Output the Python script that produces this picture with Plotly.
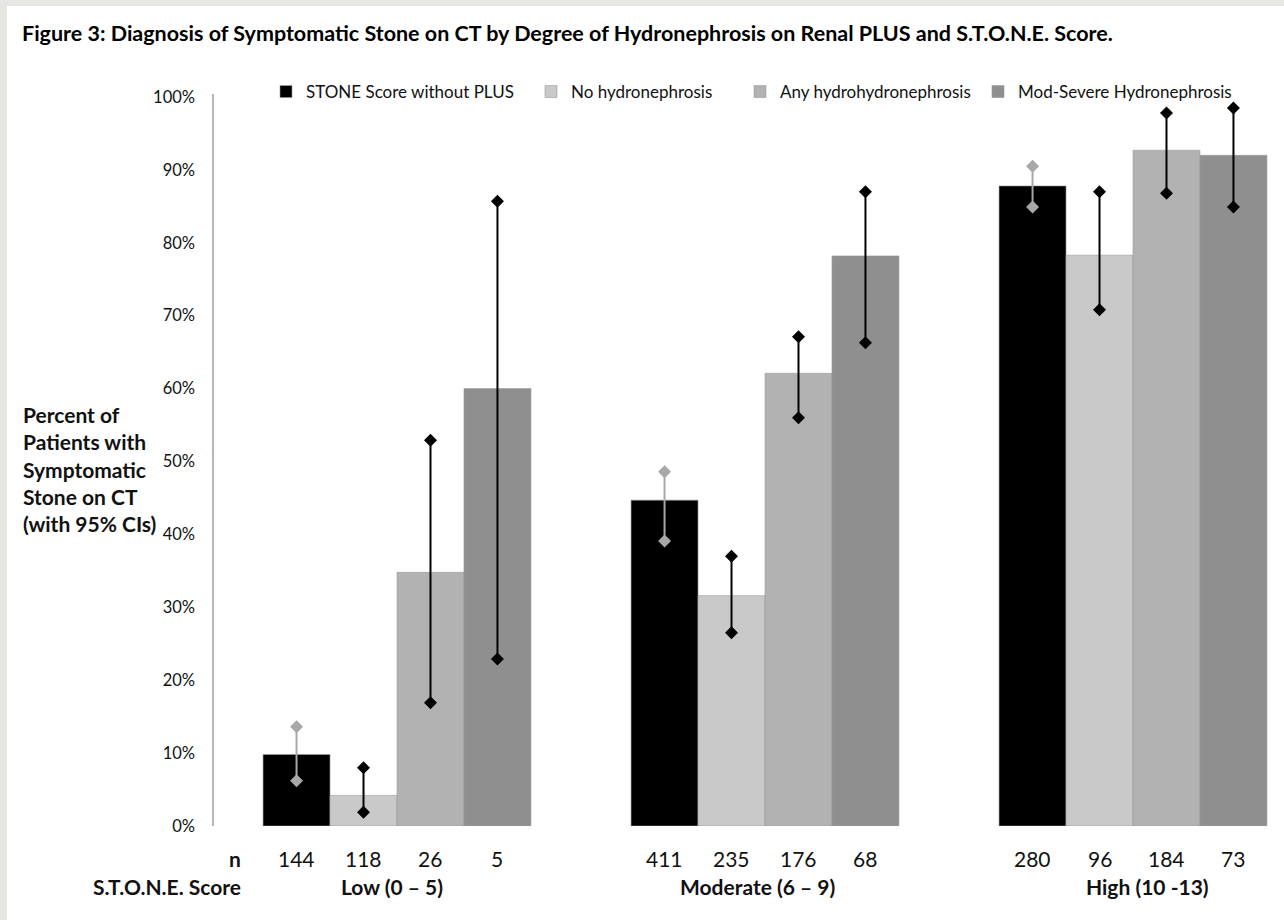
import plotly.graph_objects as go

# ---- data ----
groups = ["Low (0 – 5)", "Moderate (6 – 9)", "High (10 -13)"]
series_names = ["STONE Score without PLUS", "No hydronephrosis",
                "Any hydrohydronephrosis", "Mod-Severe Hydronephrosis"]
stone_without_plus = [9.8, 44.7, 87.8]
no_hydro = [4.2, 31.6, 78.3]
any_hydro = [34.8, 62.1, 92.7]
mod_severe = [60.0, 78.2, 92.0]

ci_low_stone = [6.2, 39.1, 84.9]
ci_high_stone = [13.6, 48.6, 90.5]
ci_low_no = [1.9, 26.5, 70.8]
ci_high_no = [8.0, 37.0, 87.0]
ci_low_any = [16.9, 56.0, 86.8]
ci_high_any = [52.9, 67.1, 97.8]
ci_low_mod = [22.9, 66.3, 84.9]
ci_high_mod = [85.7, 87.0, 98.5]

n_stone = [144, 411, 280]
n_no = [118, 235, 96]
n_any = [26, 176, 184]
n_mod = [5, 68, 73]

y_ticks = [0, 10, 20, 30, 40, 50, 60, 70, 80, 90, 100]
y_tick_labels = [f"{t}%" for t in y_ticks]

# ---- style ----
colors = ["#000000", "#c9c9c9", "#b2b2b2", "#8f8f8f"]
ci_colors = ["#a8a8a8", "#000000", "#000000", "#000000"]
FONT = "Lato"
W, H = 1284, 920
ML, MR, MT, MB = 213, 9, 97, 94
PW = W - ML - MR
PH = H - MT - MB
BARGAP = 0.272
X_MIN, X_MAX = -0.5, -0.5 + PW / 368.0
legend_text_px = [304, 569, 778, 1016]

values = [stone_without_plus, no_hydro, any_hydro, mod_severe]
ci_lo = [ci_low_stone, ci_low_no, ci_low_any, ci_low_mod]
ci_hi = [ci_high_stone, ci_high_no, ci_high_any, ci_high_mod]
counts = [n_stone, n_no, n_any, n_mod]

xg = list(range(len(groups)))
bw = (1 - BARGAP) / len(series_names)

def px2paper_x(px):
    return (px - ML) / PW

def px2paper_y(py):
    return (H - MB - py) / PH

legend_keys = ["legend", "legend2", "legend3", "legend4"]

fig = go.Figure()
for i, name in enumerate(series_names):
    fig.add_trace(go.Bar(x=xg, y=values[i], name=name, legend=legend_keys[i],
                         marker=dict(color=colors[i], line=dict(width=0.6, color="#9a9a9a")),
                         showlegend=True))

for i in range(len(series_names)):
    off = (i - (len(series_names) - 1) / 2) * bw
    xs, ys = [], []
    for g in xg:
        xs += [g + off, g + off, None]
        ys += [ci_lo[i][g], ci_hi[i][g], None]
    fig.add_trace(go.Scatter(x=xs, y=ys, mode="lines+markers", showlegend=False,
                             line=dict(color=ci_colors[i], width=2),
                             marker=dict(symbol="diamond", size=10, color=ci_colors[i]),
                             hoverinfo="skip"))

annotations = []
LBL = 21
for i in range(len(series_names)):
    off = (i - (len(series_names) - 1) / 2) * bw
    for g in xg:
        annotations.append(dict(x=g + off, y=px2paper_y(858), xref="x", yref="paper",
                                text=str(counts[i][g]), showarrow=False,
                                font=dict(family=FONT, size=LBL, color="#111"),
                                xanchor="center", yanchor="middle"))
shifts = [-5, -8, 14]
for g in xg:
    annotations.append(dict(x=g, y=px2paper_y(886), xref="x", yref="paper", xshift=shifts[g],
                            text=f"<b>{groups[g]}</b>", showarrow=False,
                            font=dict(family=FONT, size=LBL, color="#111"),
                            xanchor="center", yanchor="middle"))
annotations.append(dict(x=px2paper_x(243), y=px2paper_y(858), xref="paper", yref="paper",
                        text="<b>n</b>", showarrow=False, font=dict(family=FONT, size=LBL, color="#111"),
                        xanchor="right", yanchor="middle"))
annotations.append(dict(x=px2paper_x(243), y=px2paper_y(886), xref="paper", yref="paper",
                        text="<b>S.T.O.N.E. Score</b>", showarrow=False,
                        font=dict(family=FONT, size=LBL, color="#111"),
                        xanchor="right", yanchor="middle"))
annotations.append(dict(x=px2paper_x(21), y=px2paper_y(469), xref="paper", yref="paper",
                        text="<b>Percent of<br>Patients with<br>Symptomatic<br>Stone on CT<br>(with 95% CIs)</b>",
                        showarrow=False, align="left", font=dict(family=FONT, size=21, color="#111"),
                        xanchor="left", yanchor="middle"))
annotations.append(dict(x=px2paper_x(20), y=px2paper_y(33), xref="paper", yref="paper",
                        text="<b>Figure 3: Diagnosis of Symptomatic Stone on CT by Degree of Hydronephrosis on Renal PLUS and S.T.O.N.E. Score.</b>",
                        showarrow=False, font=dict(family=FONT, size=21.5, color="#000"),
                        xanchor="left", yanchor="middle"))

shapes = [
    dict(type="rect", xref="paper", yref="paper", x0=px2paper_x(0), x1=px2paper_x(7),
         y0=px2paper_y(920), y1=px2paper_y(0), fillcolor="#e6e6e3", line=dict(width=0), layer="below"),
    dict(type="rect", xref="paper", yref="paper", x0=px2paper_x(0), x1=px2paper_x(1284),
         y0=px2paper_y(6), y1=px2paper_y(0), fillcolor="#e6e6e3", line=dict(width=0), layer="below"),
    dict(type="line", xref="paper", yref="paper", x0=0, x1=0,
         y0=0, y1=px2paper_y(94), line=dict(color="#a0a0a0", width=1.5)),
]

legend_layout = {}
for i, key in enumerate(legend_keys):
    legend_layout[key] = dict(orientation="h", x=px2paper_x(legend_text_px[i] - 38),
                              y=px2paper_y(92), xanchor="left", yanchor="middle",
                              font=dict(family=FONT, size=17, color="#111"),
                              itemwidth=30, bgcolor="rgba(0,0,0,0)")

fig.update_layout(
    width=W, height=H,
    margin=dict(l=ML, r=MR, t=MT, b=MB, pad=0),
    paper_bgcolor="white", plot_bgcolor="white",
    barmode="group", bargap=BARGAP, bargroupgap=0,
    font=dict(family=FONT, size=16, color="#111"),
    xaxis=dict(range=[X_MIN, X_MAX], showticklabels=False, showgrid=False, zeroline=False,
               showline=False, ticks=""),
    yaxis=dict(range=[0, 100], tickvals=y_ticks, ticktext=y_tick_labels, showgrid=False,
               zeroline=False, showline=False, ticks="", ticklabelstandoff=17,
               tickfont=dict(family=FONT, size=16.5, color="#111")),
    annotations=annotations,
    shapes=shapes,
    showlegend=True,
    **legend_layout,
)

fig.write_html("out.html")
